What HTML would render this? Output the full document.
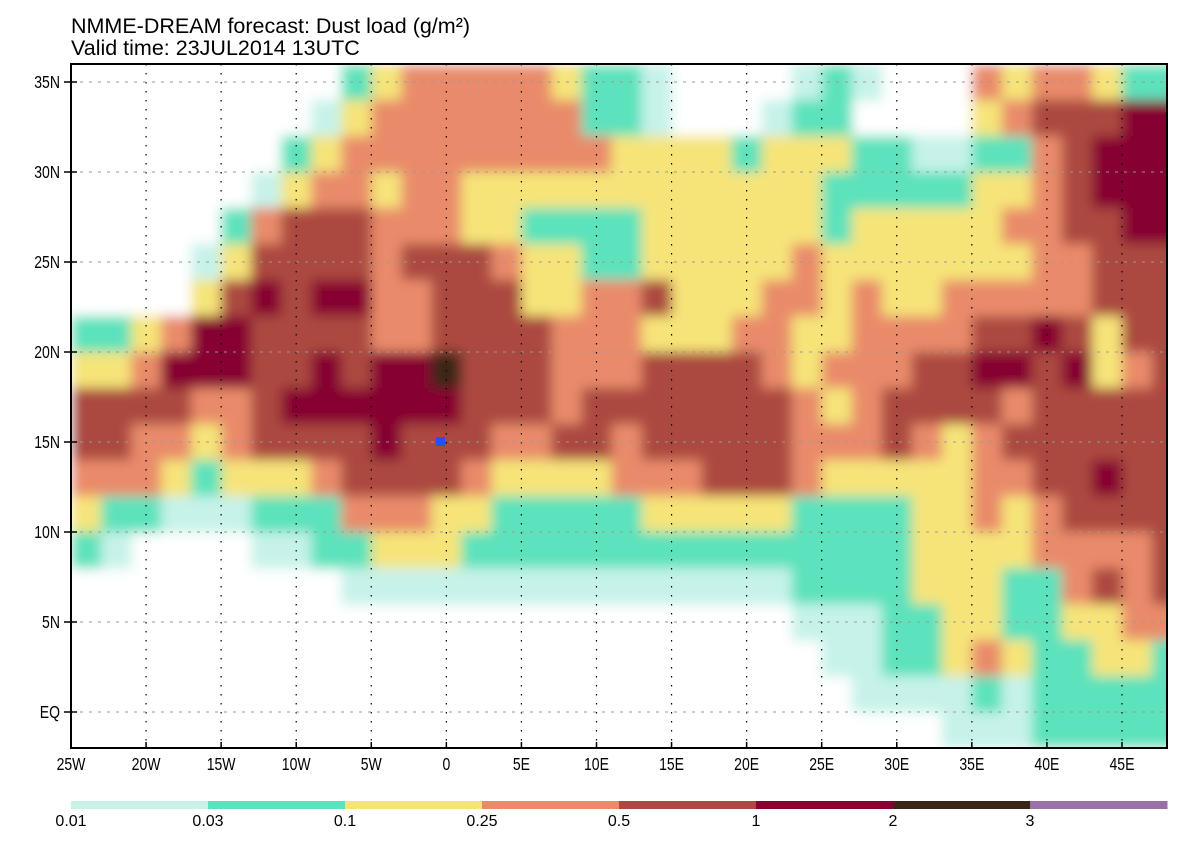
<!DOCTYPE html>
<html><head><meta charset="utf-8"><style>
html,body{margin:0;padding:0;background:#fff}
svg{display:block}
text{font-family:"Liberation Sans",sans-serif;fill:#000}
</style></head><body>
<svg id="chart" width="1182" height="842" viewBox="0 0 1182 842">
<defs>
<clipPath id="frame"><rect x="71" y="64" width="1096" height="684"/></clipPath>
<filter id="soft" x="-5%" y="-5%" width="110%" height="110%"><feGaussianBlur stdDeviation="6"/></filter>
</defs>
<text x="71" y="33" font-size="21.5">NMME-DREAM forecast: Dust load (g/m²)</text>
<text x="71" y="55" font-size="21.5">Valid time: 23JUL2014 13UTC</text>
<g id="field" clip-path="url(#frame)"><g id="cells" filter="url(#soft)"></g></g>
<g id="grid" clip-path="url(#frame)"></g>
<rect x="436" y="437" width="9" height="9" fill="#2a4cff"/>
<rect x="71" y="64" width="1096" height="684" fill="none" stroke="#000" stroke-width="2"/>
<g id="axes"></g>
<g id="colorbar"></g>
</svg>
<script>
// grid: 2° lon x 2° lat cells, rows from 36N downward; digit = colour level index
const lonStart = -25, latTop = 36, cellDeg = 2;
const levelRows = [
"0000000002344444322100001210004344322",
"0000000013444444422100012200003455566",
"0000000234444444443333233322112245666",
"0000001344344333333333333222223345666",
"0000024555444332222333333233333445566",
"0000135555455543322333334333333344555",
"0000356566445553344533344343344444555",
"2234665555445555444333443344445565355",
"3346665565667555444555543444556656345",
"5555445666666555455555554345555455555",
"5544345555655544554555554445434555555",
"4443233345555433334445554333334455655",
"3221112224443322222333332222334345555",
"2100001122333222222222222222333344445",
"0000000001111111111111112222333224545",
"0000000000000000000000001112233223344",
"0000000000000000000000000112234322332",
"0000000000000000000000000011112122222",
"0000000000000000000000000000011122222"
];
const levelColors = ["#ffffff","#c6f2ea","#5ce2bc","#f6e479","#e98b6a","#ab4a40","#870030","#3a2614","#9b6fa8"];
const levelLabels = ["0.01","0.03","0.1","0.25","0.5","1","2","3"];
const lonTicks = [-25,-20,-15,-10,-5,0,5,10,15,20,25,30,35,40,45];
const lonTickLabels = ["25W","20W","15W","10W","5W","0","5E","10E","15E","20E","25E","30E","35E","40E","45E"];
const latTicks = [35,30,25,20,15,10,5,0];
const latTickLabels = ["35N","30N","25N","20N","15N","10N","5N","EQ"];

const NS = "http://www.w3.org/2000/svg";
const xOf = lon => 71 + (lon + 25) * 15.014;
const yOf = lat => 82 + (35 - lat) * 18;
function mk(tag, attrs, parent){const e=document.createElementNS(NS,tag);for(const k in attrs)e.setAttribute(k,attrs[k]);parent.appendChild(e);return e;}

const cells = document.getElementById("cells");
mk("rect",{x:40,y:40,width:1160,height:740,fill:"#ffffff"},cells);
levelRows.forEach((row,i)=>{
  const latA = latTop - i*cellDeg, latB = latA - cellDeg;
  for(let j=0;j<row.length;j++){
    const lv = +row[j]; if(!lv) continue;
    const lonA = lonStart + j*cellDeg;
    const r = mk("rect",{x:xOf(lonA),y:yOf(latA),width:xOf(lonA+cellDeg)-xOf(lonA)+0.6,height:yOf(latB)-yOf(latA)+0.6,fill:levelColors[lv]},cells);
    
    
  }
});

const grid = document.getElementById("grid");
lonTicks.forEach(l=>{
  const g = mk("line",{x1:xOf(l),x2:xOf(l),y1:64,y2:748,stroke:"#000","stroke-width":1.2,"stroke-dasharray":"1.5 7.5"},grid);
  
  
});
latTicks.forEach(l=>{
  const g = mk("line",{x1:71,x2:1167,y1:yOf(l),y2:yOf(l),stroke:"#999","stroke-width":1,"stroke-dasharray":"3 6"},grid);
  
  
});

const axes = document.getElementById("axes");
lonTicks.forEach((l,k)=>{
  const t = mk("line",{x1:xOf(l),x2:xOf(l),y1:748,y2:742,stroke:"#000","stroke-width":1.5},axes);
  
  
  const tx = mk("text",{x:xOf(l),y:770,"font-size":18,"text-anchor":"middle","transform":`translate(${xOf(l)},0) scale(0.78,1) translate(${-xOf(l)},0)`},axes);
  tx.textContent = lonTickLabels[k];
  
  
});
latTicks.forEach((l,k)=>{
  const t = mk("line",{x1:64,x2:77,y1:yOf(l),y2:yOf(l),stroke:"#000","stroke-width":1.5},axes);
  
  
  const tx = mk("text",{x:60,y:yOf(l)+6,"font-size":18,"text-anchor":"end","transform":`translate(60,0) scale(0.78,1) translate(-60,0)`},axes);
  tx.textContent = latTickLabels[k];
  
  
});

const cb = document.getElementById("colorbar");
const segW = 137;
for(let k=1;k<levelColors.length;k++){
  const r = mk("rect",{x:71+(k-1)*segW,y:801,width:segW+0.5,height:8,fill:levelColors[k]},cb);
  
  
}
levelLabels.forEach((s,k)=>{
  const tx = mk("text",{x:71+k*segW,y:826,"font-size":16,"text-anchor":"middle"},cb);
  tx.textContent = s;
  
  
});
</script>
</body></html>
